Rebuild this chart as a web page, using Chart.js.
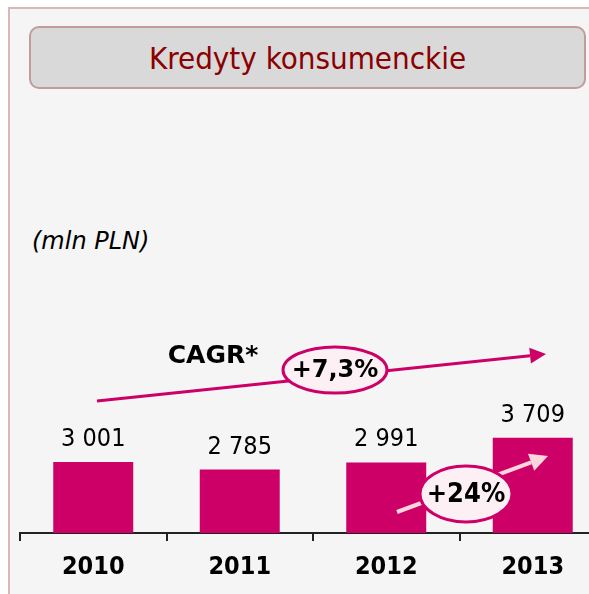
<!DOCTYPE html>
<html>
<head>
<meta charset="utf-8">
<script src="https://cdn.jsdelivr.net/npm/chart.js@4"></script>
<style>
  body { margin: 0; background: #fff; overflow: hidden; width: 589px; height: 594px; position: relative; }
  #panel { position: absolute; left: 8px; top: 7px; width: 620px; height: 620px; background: #f5f5f5; border: 2px solid #d9b8b8; }
  #title { position: absolute; left: 29px; top: 26px; width: 553px; height: 59px; background: #d9d9d9; border: 2px solid #c29b9b; border-radius: 10px;
           color: #8b0000; font: 31px "DejaVu Sans Condensed", "DejaVu Sans", sans-serif; text-align: center; line-height: 60px; }
  #unit { position: absolute; left: 32px; top: 227px; font: italic 24px "DejaVu Sans", sans-serif; color: #000; }
  #c { position: absolute; left: 0; top: 0; }
</style>
</head>
<body>
<div id="panel"></div>
<div id="title">Kredyty konsumenckie</div>
<div id="unit">(mln PLN)</div>
<canvas id="c" width="620" height="594"></canvas>
<script>
var years = ['2010', '2011', '2012', '2013'];
var loans = [3001, 2785, 2991, 3709];
var cagrText = '+7,3%';
var yoyText = '+24%';

var FONT = '"DejaVu Sans Condensed", "DejaVu Sans", sans-serif';
var WIDE = '"DejaVu Sans", sans-serif';
var MAGENTA = '#cc0066';

function fmt(v) {
    return String(v).replace(/\B(?=(\d{3})+(?!\d))/g, ' ');
}

// value labels above bars
var valueLabels = {
    id: 'valueLabels',
    afterDatasetsDraw: function(chart) {
        var ctx = chart.ctx;
        var meta = chart.getDatasetMeta(0);
        ctx.save();
        ctx.font = '25px ' + FONT;
        ctx.fillStyle = '#000';
        ctx.textAlign = 'center';
        ctx.textBaseline = 'alphabetic';
        meta.data.forEach(function(bar, i) {
            ctx.fillText(fmt(loans[i]), bar.x, bar.y - 16);
        });
        ctx.restore();
    }
};

function arrow(ctx, x1, y1, x2, y2, color, w, head) {
    var a = Math.atan2(y2 - y1, x2 - x1);
    var bx = x2 - head * Math.cos(a), by = y2 - head * Math.sin(a);
    ctx.strokeStyle = color;
    ctx.fillStyle = color;
    ctx.lineWidth = w;
    ctx.beginPath();
    ctx.moveTo(x1, y1);
    ctx.lineTo(bx, by);
    ctx.stroke();
    ctx.beginPath();
    ctx.moveTo(x2, y2);
    ctx.lineTo(bx + head * 0.5 * Math.sin(a), by - head * 0.5 * Math.cos(a));
    ctx.lineTo(bx - head * 0.5 * Math.sin(a), by + head * 0.5 * Math.cos(a));
    ctx.closePath();
    ctx.fill();
}

function bubble(ctx, cx, cy, rx, ry, text, font) {
    ctx.beginPath();
    ctx.ellipse(cx, cy, rx, ry, 0, 0, Math.PI * 2);
    ctx.fillStyle = '#fcf0f5';
    ctx.fill();
    ctx.lineWidth = 3;
    ctx.strokeStyle = MAGENTA;
    ctx.stroke();
    ctx.fillStyle = '#000';
    ctx.font = font;
    ctx.textAlign = 'center';
    ctx.textBaseline = 'middle';
    ctx.fillText(text, cx, cy + 1);
}

// growth arrows and bubbles
var notes = {
    id: 'notes',
    afterDraw: function(chart) {
        var ctx = chart.ctx;
        ctx.save();
        arrow(ctx, 97, 401, 546, 354, MAGENTA, 3, 16);
        ctx.font = 'bold 25px ' + WIDE;
        ctx.fillStyle = '#000';
        ctx.textAlign = 'center';
        ctx.textBaseline = 'middle';
        ctx.fillText('CAGR*', 213, 356);
        bubble(ctx, 335, 370, 52, 23, cagrText, 'bold 24px ' + WIDE);

        arrow(ctx, 397, 512, 548, 456, '#fcd6dc', 4, 18);
        bubble(ctx, 466, 494, 46, 28, yoyText, 'bold 27px ' + FONT);
        ctx.restore();
    }
};

var ctx = document.getElementById('c').getContext('2d');
var myChart = new Chart(ctx, {
    type: 'bar',
    data: {
        labels: years,
        datasets: [{
            data: loans,
            backgroundColor: MAGENTA,
            borderWidth: 0,
            categoryPercentage: 1,
            barPercentage: 0.546
        }]
    },
    options: {
        responsive: false,
        animation: false,
        devicePixelRatio: 1,
        layout: {
            padding: { left: 20, right: 14, top: 393, bottom: 0 }
        },
        plugins: {
            legend: { display: false },
            tooltip: { enabled: false }
        },
        scales: {
            x: {
                afterFit: function(scale) { scale.height = 61; },
                grid: {
                    display: true,
                    drawOnChartArea: false,
                    drawTicks: true,
                    tickLength: 8,
                    tickColor: '#222',
                    lineWidth: 2,
                    offset: true
                },
                border: { display: true, color: '#222', width: 2 },
                ticks: {
                    color: '#000',
                    padding: 11,
                    font: { family: FONT, size: 25, weight: 'bold' }
                }
            },
            y: {
                display: false,
                min: 950,
                max: 5000
            }
        }
    },
    plugins: [valueLabels, notes]
});
</script>
</body>
</html>
